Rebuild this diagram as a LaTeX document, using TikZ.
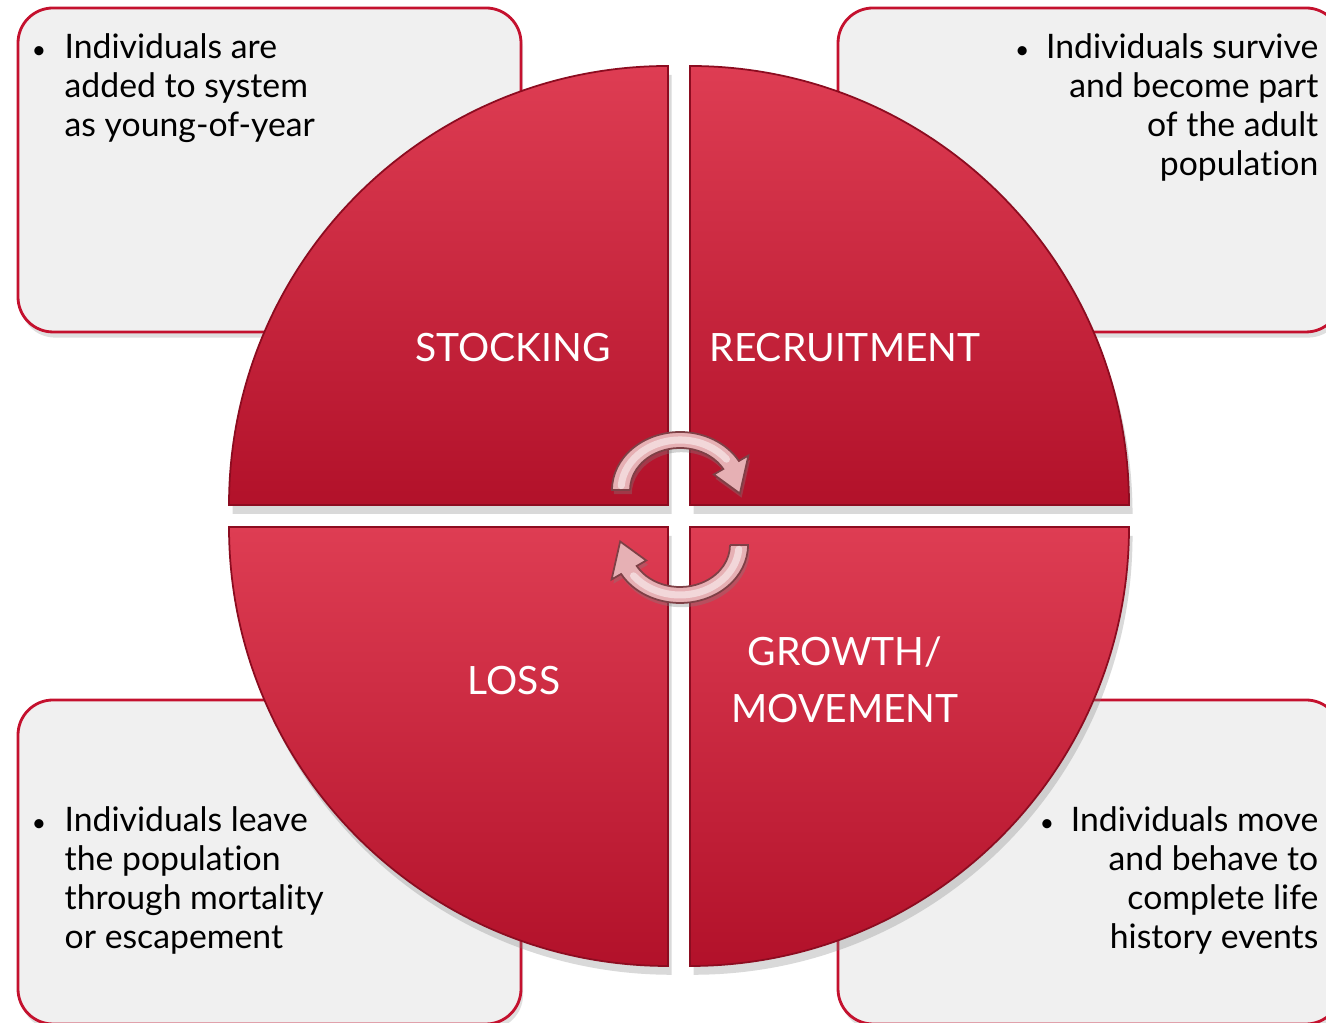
\documentclass[tikz,border=0pt]{standalone}
\usepackage{fontspec}
\setmainfont{Lato}[Ligatures=NoCommon]
\usetikzlibrary{shadows}

\definecolor{boxgray}{HTML}{F0F0F0}
\definecolor{boxred}{HTML}{C4112E}
\definecolor{quadlight}{HTML}{DE3D53}
\definecolor{quaddark}{HTML}{B2112A}
\definecolor{quadedge}{HTML}{8C0C20}
\definecolor{arrowpink}{HTML}{E6B0B4}
\definecolor{arrowedge}{HTML}{7E4046}

\newcommand{\dotmark}{{\fontsize{7}{7}\selectfont\textbullet}}

\begin{document}
\begin{tikzpicture}[
  infobox/.style={draw=boxred, line width=0.8pt, fill=boxgray, rounded corners=0.35cm,
    drop shadow={shadow xshift=0.6pt, shadow yshift=-1.6pt, opacity=0.25}},
  quarter/.style={draw=quadedge, line width=0.5pt, top color=quadlight, bottom color=quaddark,
    drop shadow={shadow xshift=1pt, shadow yshift=-2.5pt, opacity=0.3}},
  bullettext/.style={inner sep=0pt, font=\fontsize{9.6}{11.1}\selectfont},
  phase/.style={text=white, align=center, font=\fontsize{11.1}{16.2}\selectfont},
  cyclearrow/.style={fill=arrowpink, draw=arrowedge, line width=0.5pt,
    drop shadow={shadow xshift=0.5pt, shadow yshift=-1.2pt, opacity=0.35}}]

  \useasboundingbox (0,0) rectangle (13.26,10.23);

  % boxes behind the wheel
  \draw[infobox] (0.18,6.91) rectangle (5.21,10.15);
  \draw[infobox] (8.38,6.91) rectangle (13.41,10.15);
  \draw[infobox] (0.18,-0.01) rectangle (5.21,3.23);
  \draw[infobox] (8.38,-0.01) rectangle (13.41,3.23);

  % the four quarters of the wheel
  \path[quarter] (6.68,5.18) -- (2.29,5.18)
    arc[start angle=180, end angle=90, radius=4.39] -- cycle;
  \path[quarter] (6.90,5.18) -- (6.90,9.57)
    arc[start angle=90, end angle=0, radius=4.39] -- cycle;
  \path[quarter] (6.68,4.96) -- (2.29,4.96)
    arc[start angle=180, end angle=270, radius=4.39] -- cycle;
  \path[quarter] (6.90,4.96) -- (6.90,0.57)
    arc[start angle=270, end angle=360, radius=4.39] -- cycle;

  % curved arrows in the middle
  \begin{scope}[shift={(6.80,5.33)}]
    \filldraw[cyclearrow] (180:0.50 and 0.42) -- (180:0.68 and 0.58)
      arc[start angle=180, end angle=30, x radius=0.68, y radius=0.58]
      -- (30:0.79 and 0.69) -- (-4:0.60 and 0.50) -- (30:0.39 and 0.31)
      -- (30:0.50 and 0.42)
      arc[start angle=30, end angle=180, x radius=0.50, y radius=0.42] -- cycle;
    \draw[white, opacity=0.5, line width=2pt, line cap=round] (175:0.59 and 0.50)
      arc[start angle=175, end angle=38, x radius=0.59, y radius=0.50];
  \end{scope}
  \begin{scope}[shift={(6.80,4.78)}]
    \filldraw[cyclearrow] (0:0.50 and 0.42) -- (0:0.68 and 0.58)
      arc[start angle=0, end angle=-150, x radius=0.68, y radius=0.58]
      -- (210:0.79 and 0.69) -- (176:0.60 and 0.50) -- (210:0.39 and 0.31)
      -- (210:0.50 and 0.42)
      arc[start angle=-150, end angle=0, x radius=0.50, y radius=0.42] -- cycle;
    \draw[white, opacity=0.5, line width=2pt, line cap=round] (-5:0.59 and 0.50)
      arc[start angle=-5, end angle=-142, x radius=0.59, y radius=0.50];
  \end{scope}

  % phase names
  \node[phase] (stocking) at (5.13,6.75) {STOCKING};
  \node[phase] (recruitment) at (8.45,6.75) {RECRUITMENT};
  \node[phase] (loss) at (5.14,3.42) {LOSS};
  \node[phase] (growth) at (8.45,3.43) {GROWTH/\\MOVEMENT};

  % bullet texts
  \node[bullettext, anchor=north west, align=left] (stocktext) at (0.64,9.90)
    {\llap{\dotmark\hspace{0.55em}}Individuals are\\added to system\\as young-of-year};
  \node[bullettext, anchor=north east, align=right] (recruittext) at (13.19,9.90)
    {\dotmark\hspace{0.5em}Individuals survive\\and become part\\of the adult\\population};
  \node[bullettext, anchor=north west, align=left] (losstext) at (0.64,2.17)
    {\llap{\dotmark\hspace{0.55em}}Individuals leave\\the population\\through mortality\\or escapement};
  \node[bullettext, anchor=north east, align=right] (growthtext) at (13.19,2.17)
    {\dotmark\hspace{0.5em}Individuals move\\and behave to\\complete life\\history events};
\end{tikzpicture}
\end{document}
